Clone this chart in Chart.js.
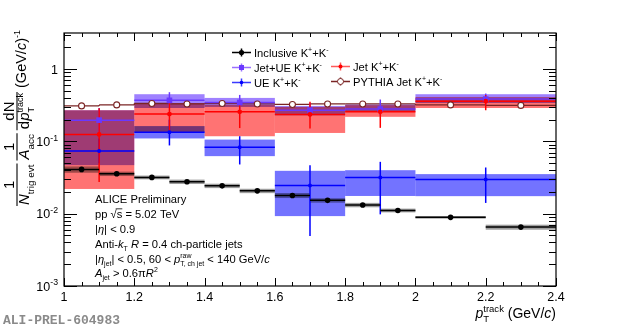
<!DOCTYPE html>
<html>
<head>
<meta charset="utf-8">
<script src="https://cdn.jsdelivr.net/npm/chart.js@4.4.1/dist/chart.umd.min.js"></script>
<style>
  html, body { margin: 0; padding: 0; background: #fff; }
  #wrap { width: 620px; height: 328px; }
</style>
</head>
<body>
<div id="wrap"><canvas id="c" width="620" height="328"></canvas></div>
<script>
// ── Datos ────────────────────────────────────────────────────────────────

// Inclusive K+K- (bins finos) y PYTHIA
const incEdges = [1.0, 1.1, 1.2, 1.3, 1.4, 1.5, 1.6, 1.7, 1.8, 1.9, 2.0, 2.2, 2.4]
const incY = [0.041, 0.0357, 0.0318, 0.0277, 0.0243, 0.0207, 0.0179, 0.0153, 0.0132, 0.0111, 0.0089, 0.00653]
const incSysRel = [0.1, 0.07, 0.06, 0.07, 0.07, 0.07, 0.08, 0.07, 0.07, 0.06, 0.04, 0.08]
const pyY = [0.31, 0.32, 0.335, 0.33, 0.335, 0.33, 0.325, 0.33, 0.33, 0.33, 0.32, 0.315]

// Jet, Jet+UE, UE (bins anchos)
const wideEdges = [1.0, 1.2, 1.4, 1.6, 1.8, 2.0, 2.4]

const jetY = [0.125, 0.239, 0.257, 0.236, 0.257, 0.36]
const jetStatLo = [0.0274, 0.14, 0.153, 0.151, 0.154, 0.27]
const jetStatHi = [0.288, 0.34, 0.318, 0.353, 0.30, 0.437]
const jetSysLo = [0.022, 0.135, 0.118, 0.131, 0.219, 0.29]
const jetSysHi = [0.27, 0.34, 0.32, 0.30, 0.318, 0.41]

const jueY = [0.197, 0.37, 0.346, 0.271, 0.28, 0.385]
const jueStatLo = [0.13, 0.30, 0.28, 0.22, 0.23, 0.32]
const jueStatHi = [0.29, 0.48, 0.44, 0.34, 0.38, 0.46]
const jueSysLo = [0.047, 0.29, 0.30, 0.23, 0.26, 0.34]
const jueSysHi = [0.27, 0.45, 0.40, 0.31, 0.325, 0.45]

const ueY = [0.074, 0.134, 0.0834, 0.0246, 0.0318, 0.0298]
const ueStatLo = [0.05, 0.088, 0.048, 0.0049, 0.0098, 0.0141]
const ueStatHi = [0.11, 0.2, 0.118, 0.047, 0.0522, 0.0436]
const ueSysLo = [null, 0.11, 0.0626, 0.00927, 0.0176, 0.0175]   // primer bin: banda no visible
const ueSysHi = [null, 0.163, 0.106, 0.0392, 0.040, 0.0353]

// Ejes
const xMin = 1.0, xMax = 2.4
const yMin = 1e-3, yMax = Math.pow(10, 0.5)
const xTicks = [1, 1.2, 1.4, 1.6, 1.8, 2, 2.2, 2.4]
const xTickLabels = ['1', '1.2', '1.4', '1.6', '1.8', '2', '2.2', '2.4']
const yTicks = [1e-3, 1e-2, 1e-1, 1]
const yTickLabels = [['10', '-3'], ['10', '-2'], ['10', '-1'], ['1', '']]

// ── Colores ──────────────────────────────────────────────────────────────

const INC_COL = '#000000', INC_BAND = 'rgba(0,0,0,0.38)'
const PY_COL = '#7a2424'
const JET_COL = '#ff0000', JET_BAND = 'rgba(255,0,0,0.55)', JET_LEG = '#ff5a5a'
const JUE_COL = '#6a38ff', JUE_BAND = 'rgba(95,45,255,0.6)', JUE_LEG = '#9a70ff'
const UE_COL = '#0000ff', UE_BAND = 'rgba(0,0,255,0.55)', UE_LEG = '#3a3aff'

const FONT = '"Liberation Sans", Arial, Helvetica, sans-serif'

// ── Helpers ──────────────────────────────────────────────────────────────

const mids = edges => edges.slice(0, -1).map((e, i) => (e + edges[i + 1]) / 2)
const pts = (edges, ys) => mids(edges).map((x, i) => ({ x, y: ys[i] }))

function fontOf (size, italic) { return (italic ? 'italic ' : '') + size + 'px ' + FONT }

// parts: [texto, tipo]  tipo: n, i, sub, sup, ss ([sup, sub] apilados), ov (con raya arriba)
function segWidth (ctx, p, size, k2) {
  const [t, k] = p
  const small = size * k2
  if (k === 'ss') {
    ctx.font = fontOf(small)
    return Math.max(ctx.measureText(t[0]).width, ctx.measureText(t[1]).width)
  }
  ctx.font = (k === 'sub' || k === 'sup') ? fontOf(small) : fontOf(size, k === 'i')
  return ctx.measureText(t).width
}

function richWidth (ctx, parts, size, k2 = 0.62) {
  return parts.reduce((w, p) => w + segWidth(ctx, p, size, k2), 0)
}

function rich (ctx, x, y, parts, size, align = 'left', k2 = 0.62) {
  ctx.textBaseline = 'alphabetic'
  ctx.textAlign = 'left'
  let cx = x
  const tw = richWidth(ctx, parts, size, k2)
  if (align === 'right') cx -= tw
  if (align === 'center') cx -= tw / 2
  const small = size * k2
  for (const p of parts) {
    const [t, k] = p
    const w = segWidth(ctx, p, size, k2)
    if (k === 'ss') {
      ctx.font = fontOf(small)
      ctx.fillText(t[0], cx, y - size * 0.42)
      ctx.fillText(t[1], cx, y + size * 0.3)
    } else if (k === 'sub') {
      ctx.font = fontOf(small); ctx.fillText(t, cx, y + size * 0.3)
    } else if (k === 'sup') {
      ctx.font = fontOf(small); ctx.fillText(t, cx, y - size * 0.42)
    } else {
      ctx.font = fontOf(size, k === 'i'); ctx.fillText(t, cx, y)
      if (k === 'ov') {
        ctx.save(); ctx.lineWidth = 0.8; ctx.strokeStyle = ctx.fillStyle
        ctx.beginPath(); ctx.moveTo(cx - 1, y - size * 0.82); ctx.lineTo(cx + w, y - size * 0.82); ctx.stroke()
        ctx.restore()
      }
    }
    cx += w
  }
  return tw
}

// ── Plugin: bandas, barras de error, ejes y textos ──────────────────────

const rootPlugin = {
  id: 'rootStyle',
  beforeDatasetsDraw (chart) {
    const { ctx, chartArea: a } = chart
    const X = v => chart.scales.x.getPixelForValue(v)
    const Y = v => chart.scales.y.getPixelForValue(v)
    ctx.save()
    ctx.beginPath(); ctx.rect(a.left, a.top, a.right - a.left, a.bottom - a.top); ctx.clip()

    const box = (x0, x1, lo, hi, col) => {
      if (lo == null || hi == null) return
      ctx.fillStyle = col
      ctx.fillRect(X(x0), Y(hi), X(x1) - X(x0), Y(lo) - Y(hi))
    }
    const seg = (x0, y0, x1, y1, col, w) => {
      ctx.strokeStyle = col; ctx.lineWidth = w
      ctx.beginPath(); ctx.moveTo(x0, y0); ctx.lineTo(x1, y1); ctx.stroke()
    }

    // bandas sistemáticas (mezcla multiplicativa para los solapes)
    ctx.globalCompositeOperation = 'multiply'
    wideEdges.slice(0, -1).forEach((e, i) => box(e, wideEdges[i + 1], ueSysLo[i], ueSysHi[i], UE_BAND))
    wideEdges.slice(0, -1).forEach((e, i) => box(e, wideEdges[i + 1], jueSysLo[i], jueSysHi[i], JUE_BAND))
    wideEdges.slice(0, -1).forEach((e, i) => box(e, wideEdges[i + 1], jetSysLo[i], jetSysHi[i], JET_BAND))
    ctx.globalCompositeOperation = 'source-over'
    incEdges.slice(0, -1).forEach((e, i) =>
      box(e, incEdges[i + 1], incY[i] * (1 - incSysRel[i]), incY[i] * (1 + incSysRel[i]), INC_BAND))

    // PYTHIA como histograma
    incEdges.slice(0, -1).forEach((e, i) => {
      seg(X(e), Y(pyY[i]), X(incEdges[i + 1]), Y(pyY[i]), PY_COL, 1.3)
      if (i > 0) seg(X(e), Y(pyY[i - 1]), X(e), Y(pyY[i]), PY_COL, 1.3)
    })

    // barras de error (anchos de bin + estadística)
    const errs = (edges, ys, lo, hi, col) => {
      const m = mids(edges)
      edges.slice(0, -1).forEach((e, i) => {
        seg(X(e), Y(ys[i]), X(edges[i + 1]), Y(ys[i]), col, 1.5)
        if (lo) seg(X(m[i]), Y(lo[i]), X(m[i]), Y(hi[i]), col, 1.5)
      })
    }
    errs(wideEdges, ueY, ueStatLo, ueStatHi, UE_COL)
    errs(wideEdges, jueY, jueStatLo, jueStatHi, JUE_COL)
    errs(wideEdges, jetY, jetStatLo, jetStatHi, JET_COL)
    errs(incEdges, incY, null, null, INC_COL)

    ctx.restore()
  },

  afterDatasetsDraw (chart) {
    const { ctx, chartArea: a } = chart
    const X = v => chart.scales.x.getPixelForValue(v)
    const Y = v => chart.scales.y.getPixelForValue(v)
    ctx.save()
    ctx.fillStyle = '#000'
    ctx.strokeStyle = '#000'

    // marco
    ctx.lineWidth = 1.2
    ctx.strokeRect(a.left, a.top, a.right - a.left, a.bottom - a.top)

    // ticks X (abajo y arriba)
    ctx.lineWidth = 1
    for (let k = 0; k <= 28; k++) {
      const v = xMin + k * 0.05
      const len = (k % 4 === 0) ? 8 : 4
      const px = Math.round(X(v)) + 0.5
      ctx.beginPath()
      ctx.moveTo(px, a.bottom); ctx.lineTo(px, a.bottom - len)
      ctx.moveTo(px, a.top); ctx.lineTo(px, a.top + len)
      ctx.stroke()
    }
    // ticks Y log (izquierda y derecha)
    for (let dec = -3; dec <= 0; dec++) {
      for (let m = 1; m <= 9; m++) {
        const v = m * Math.pow(10, dec)
        if (v < yMin || v > yMax) continue
        const len = m === 1 ? 13 : 7
        const py = Math.round(Y(v)) + 0.5
        ctx.beginPath()
        ctx.moveTo(a.left, py); ctx.lineTo(a.left + len, py)
        ctx.moveTo(a.right, py); ctx.lineTo(a.right - len, py)
        ctx.stroke()
      }
    }

    // etiquetas de ticks
    xTicks.forEach((v, i) => rich(ctx, X(v), a.bottom + 15, [[xTickLabels[i], 'n']], 12.5, 'center'))
    yTicks.forEach((v, i) => {
      const [b, e] = yTickLabels[i]
      const parts = e ? [[b, 'n'], [e, 'sup']] : [[b, 'n']]
      rich(ctx, 58, Y(v) + 4.5, parts, 12.5, 'right', 0.7)
    })

    // título eje X
    rich(ctx, a.right, 318, [['p', 'i'], [['track', 'T'], 'ss'], [' (GeV/', 'n'], ['c', 'i'], [')', 'n']], 14, 'right', 0.68)

    // título eje Y (rotado)
    ctx.save()
    ctx.translate(17, 206)
    ctx.rotate(-Math.PI / 2)
    const TS = 15
    let u = 0
    const frac = (num, den, k2) => {
      const wn = richWidth(ctx, num, TS, k2)
      const wd = richWidth(ctx, den, TS, k2)
      const w = Math.max(wn, wd) + 2
      ctx.lineWidth = 1.1
      ctx.beginPath(); ctx.moveTo(u, 0); ctx.lineTo(u + w, 0); ctx.stroke()
      rich(ctx, u + w / 2, -3, num, TS, 'center', k2)
      rich(ctx, u + w / 2, 12, den, TS, 'center', k2)
      u += w + 3
    }
    frac([['1', 'n']], [['N', 'i'], ['trig evt', 'sub']], 0.66)
    frac([['1', 'n']], [['A', 'i'], ['acc', 'sub']], 0.66)
    frac([['dN', 'n']], [['d', 'n'], ['p', 'i'], [['track', 'T'], 'ss']], 0.6)
    rich(ctx, u + 1, 9, [['(GeV/', 'n'], ['c', 'i'], [')', 'n'], ['-1', 'sup']], 14.5, 'left', 0.62)
    ctx.restore()

    // leyenda
    const legRow = (x0, y, lineCol, col, marker, parts) => {
      ctx.strokeStyle = lineCol; ctx.lineWidth = 1.5
      ctx.beginPath(); ctx.moveTo(x0, y); ctx.lineTo(x0 + 19, y)
      ctx.moveTo(x0 + 9.5, y - 4); ctx.lineTo(x0 + 9.5, y + 4); ctx.stroke()
      const cx = x0 + 9.5
      ctx.fillStyle = col; ctx.strokeStyle = col
      if (marker === 'rect') ctx.fillRect(cx - 2.5, y - 2.5, 5, 5)
      else if (marker === 'open') {
        ctx.fillStyle = '#fff'; ctx.lineWidth = 1
        ctx.beginPath(); ctx.arc(cx, y, 3, 0, Math.PI * 2); ctx.fill(); ctx.stroke()
      } else {
        ctx.beginPath(); ctx.arc(cx, y, marker, 0, Math.PI * 2); ctx.fill()
      }
      ctx.fillStyle = '#000'
      rich(ctx, x0 + 22, y + 4, parts, 11.2)
    }
    const kk = [['+', 'sup'], ['+K', 'n'], ['-', 'sup']]
    legRow(232, 52.5, INC_COL, INC_COL, 2.6, [['Inclusive K', 'n'], ...kk])
    legRow(232, 67.5, JUE_LEG, JUE_COL, 'rect', [['Jet+UE K', 'n'], ...kk])
    legRow(232, 82.5, UE_LEG, UE_COL, 1.8, [['UE K', 'n'], ...kk])
    legRow(331, 66.5, JET_LEG, JET_COL, 2, [['Jet K', 'n'], ...kk])
    legRow(331, 81.5, PY_COL, PY_COL, 'open', [['PYTHIA Jet K', 'n'], ...kk])

    // textos ALICE
    ctx.fillStyle = '#000'
    const TX = 95, FS = 11.2
    rich(ctx, TX, 203, [['ALICE Preliminary', 'n']], FS)
    rich(ctx, TX, 218, [['pp ', 'n'], ['√', 'n'], ['s', 'ov'], [' = 5.02 TeV', 'n']], FS)
    rich(ctx, TX, 233, [['|', 'n'], ['η', 'i'], ['| < 0.9', 'n']], FS)
    rich(ctx, TX, 248, [['Anti-', 'n'], ['k', 'i'], ['T', 'sub'], [' ', 'n'], ['R', 'i'], [' = 0.4 ch-particle jets', 'n']], FS)
    rich(ctx, TX, 262.5, [['|', 'n'], ['η', 'i'], ['jet', 'sub'], ['| < 0.5, 60 < ', 'n'], ['p', 'i'],
      [['raw', 'T, ch jet'], 'ss'], [' < 140 GeV/', 'n'], ['c', 'i']], FS)
    rich(ctx, TX, 277, [['A', 'i'], ['jet', 'sub'], [' > 0.6', 'n'], ['π', 'n'], ['R', 'i'], ['2', 'sup']], FS)

    // sello
    ctx.fillStyle = '#8a8a8a'
    ctx.font = 'bold 13px "Liberation Mono", "DejaVu Sans Mono", monospace'
    ctx.textAlign = 'left'; ctx.textBaseline = 'alphabetic'
    ctx.fillText('ALI-PREL-604983', 3, 324)

    ctx.restore()
  }
}

// ── Chart ────────────────────────────────────────────────────────────────

new Chart(document.getElementById('c'), {
  type: 'scatter',
  data: {
    datasets: [
      { label: 'Inclusive', data: pts(incEdges, incY), pointStyle: 'circle', pointRadius: 2.8,
        backgroundColor: INC_COL, borderColor: INC_COL, borderWidth: 0, order: 5 },
      { label: 'UE', data: pts(wideEdges, ueY), pointStyle: 'circle', pointRadius: 2,
        backgroundColor: UE_COL, borderColor: UE_COL, borderWidth: 0, order: 4 },
      { label: 'Jet+UE', data: pts(wideEdges, jueY), pointStyle: 'rect', pointRadius: 4,
        backgroundColor: JUE_COL, borderColor: JUE_COL, borderWidth: 0, order: 3 },
      { label: 'Jet', data: pts(wideEdges, jetY), pointStyle: 'circle', pointRadius: 2.4,
        backgroundColor: JET_COL, borderColor: JET_COL, borderWidth: 0, order: 2 },
      { label: 'PYTHIA', data: pts(incEdges, pyY), pointStyle: 'circle', pointRadius: 3,
        backgroundColor: '#ffffff', borderColor: PY_COL, borderWidth: 1.1, order: 1 }
    ]
  },
  options: {
    responsive: false,
    animation: false,
    devicePixelRatio: 1,
    layout: { padding: { left: 64, right: 64, top: 33, bottom: 42 } },
    plugins: { legend: { display: false }, tooltip: { enabled: false } },
    scales: {
      x: { type: 'linear', min: xMin, max: xMax, display: false },
      y: { type: 'logarithmic', min: yMin, max: yMax, display: false }
    }
  },
  plugins: [rootPlugin]
})
</script>
</body>
</html>
